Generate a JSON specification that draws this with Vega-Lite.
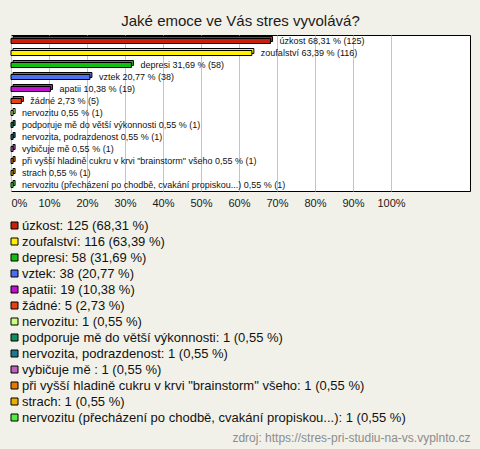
{
  "$schema": "https://vega.github.io/schema/vega-lite/v6.json",
  "autosize": {"type": "none"},
  "width": 459,
  "height": 156,
  "padding": {"left": 11, "top": 35, "right": 10, "bottom": 258},
  "background": "#f2f1e9",
  "title": {
    "text": "Jaké emoce ve Vás stres vyvolává?",
    "font": "Liberation Sans",
    "fontSize": 15,
    "fontWeight": "normal",
    "color": "#1a1a1a",
    "anchor": "middle",
    "frame": "group",
    "baseline": "alphabetic",
    "offset": 10,
    "dy": 16
  },
  "data": {
    "values": [
      {"option": "úzkost", "count": 125, "pct": 68.31, "bar_label": "úzkost 68,31 % (125)", "legend_label": "úzkost: 125 (68,31 %)"},
      {"option": "zoufalství", "count": 116, "pct": 63.39, "bar_label": "zoufalství 63,39 % (116)", "legend_label": "zoufalství: 116 (63,39 %)"},
      {"option": "depresi", "count": 58, "pct": 31.69, "bar_label": "depresi 31,69 % (58)", "legend_label": "depresi: 58 (31,69 %)"},
      {"option": "vztek", "count": 38, "pct": 20.77, "bar_label": "vztek 20,77 % (38)", "legend_label": "vztek: 38 (20,77 %)"},
      {"option": "apatii", "count": 19, "pct": 10.38, "bar_label": "apatii 10,38 % (19)", "legend_label": "apatii: 19 (10,38 %)"},
      {"option": "žádné", "count": 5, "pct": 2.73, "bar_label": "žádné 2,73 % (5)", "legend_label": "žádné: 5 (2,73 %)"},
      {"option": "nervozitu", "count": 1, "pct": 0.55, "bar_label": "nervozitu 0,55 % (1)", "legend_label": "nervozitu: 1 (0,55 %)"},
      {"option": "podporuje mě do větší výkonnosti", "count": 1, "pct": 0.55, "bar_label": "podporuje mě do větší výkonnosti 0,55 % (1)", "legend_label": "podporuje mě do větší výkonnosti: 1 (0,55 %)"},
      {"option": "nervozita, podrazdenost", "count": 1, "pct": 0.55, "bar_label": "nervozita, podrazdenost 0,55 % (1)", "legend_label": "nervozita, podrazdenost: 1 (0,55 %)"},
      {"option": "vybičuje mě ", "count": 1, "pct": 0.55, "bar_label": "vybičuje mě  0,55 % (1)", "legend_label": "vybičuje mě : 1 (0,55 %)"},
      {"option": "při vyšší hladině cukru v krvi \"brainstorm\" všeho", "count": 1, "pct": 0.55, "bar_label": "při vyšší hladině cukru v krvi \"brainstorm\" všeho 0,55 % (1)", "legend_label": "při vyšší hladině cukru v krvi \"brainstorm\" všeho: 1 (0,55 %)"},
      {"option": "strach", "count": 1, "pct": 0.55, "bar_label": "strach 0,55 % (1)", "legend_label": "strach: 1 (0,55 %)"},
      {"option": "nervozitu (přecházení po chodbě, cvakání propiskou...)", "count": 1, "pct": 0.55, "bar_label": "nervozitu (přecházení po chodbě, cvakání propiskou...) 0,55 % (1)", "legend_label": "nervozitu (přecházení po chodbě, cvakání propiskou...): 1 (0,55 %)"}
    ]
  },
  "encoding": {
    "y": {"field": "option", "type": "nominal", "sort": null, "axis": null, "scale": {"paddingInner": 0, "paddingOuter": 0}},
    "x": {
      "field": "pct",
      "type": "quantitative",
      "scale": {"domain": [0, 120.8], "nice": false, "zero": true},
      "axis": {
        "values": [0, 10, 20, 30, 40, 50, 60, 70, 80, 90, 100],
        "labelExpr": "datum.value + '%'",
        "grid": true,
        "gridColor": "#c4c4c4",
        "gridWidth": 1,
        "domain": false,
        "ticks": false,
        "labelFlush": true,
        "labelFont": "Liberation Sans",
        "labelFontSize": 11,
        "labelColor": "#1a1a1a",
        "labelPadding": 6,
        "title": "zdroj: https://stres-pri-studiu-na-vs.vyplnto.cz",
        "titleFont": "Liberation Sans",
        "titleFontSize": 12,
        "titleFontWeight": "normal",
        "titleColor": "#8c8c8c",
        "titleAlign": "right",
        "titleAnchor": "end",
        "titleBaseline": "alphabetic",
        "titleX": 459,
        "titleY": 250
      }
    }
  },
  "layer": [
    {
      "mark": {"type": "bar", "size": 5, "xOffset": 2, "yOffset": -2, "stroke": "#000000", "strokeWidth": 1, "opacity": 1},
      "encoding": {
        "color": {
          "field": "legend_label",
          "type": "nominal",
          "sort": null,
          "scale": {"range": ["#c8200a", "#fff000", "#10c010", "#4870f0", "#c010d0", "#e84010", "#c8ff80", "#109060", "#207890", "#c060c0", "#e87800", "#e8b000", "#50f040"]},
          "legend": {
            "title": null,
            "orient": "none",
            "legendX": -3,
            "legendY": 184,
            "padding": 0,
            "symbolType": "square",
            "symbolSize": 49,
            "symbolStrokeColor": "#000000",
            "symbolStrokeWidth": 1,
            "symbolOpacity": 1,
            "labelFont": "Liberation Sans",
            "labelFontSize": 13,
            "labelColor": "#111111",
            "labelLimit": 470,
            "labelOffset": 1,
            "rowPadding": 2
          }
        }
      }
    },
    {
      "mark": {"type": "bar", "size": 5, "stroke": "#000000", "strokeWidth": 1, "opacity": 1},
      "encoding": {
        "color": {"field": "legend_label", "type": "nominal", "sort": null}
      }
    },
    {
      "mark": {"type": "text", "align": "left", "baseline": "middle", "dx": 9, "font": "Liberation Sans", "fontSize": 9, "color": "#111111"},
      "encoding": {
        "text": {"field": "bar_label"}
      }
    }
  ],
  "config": {
    "view": {"stroke": "#000000", "strokeWidth": 1, "fill": "#ffffff"}
  }
}
